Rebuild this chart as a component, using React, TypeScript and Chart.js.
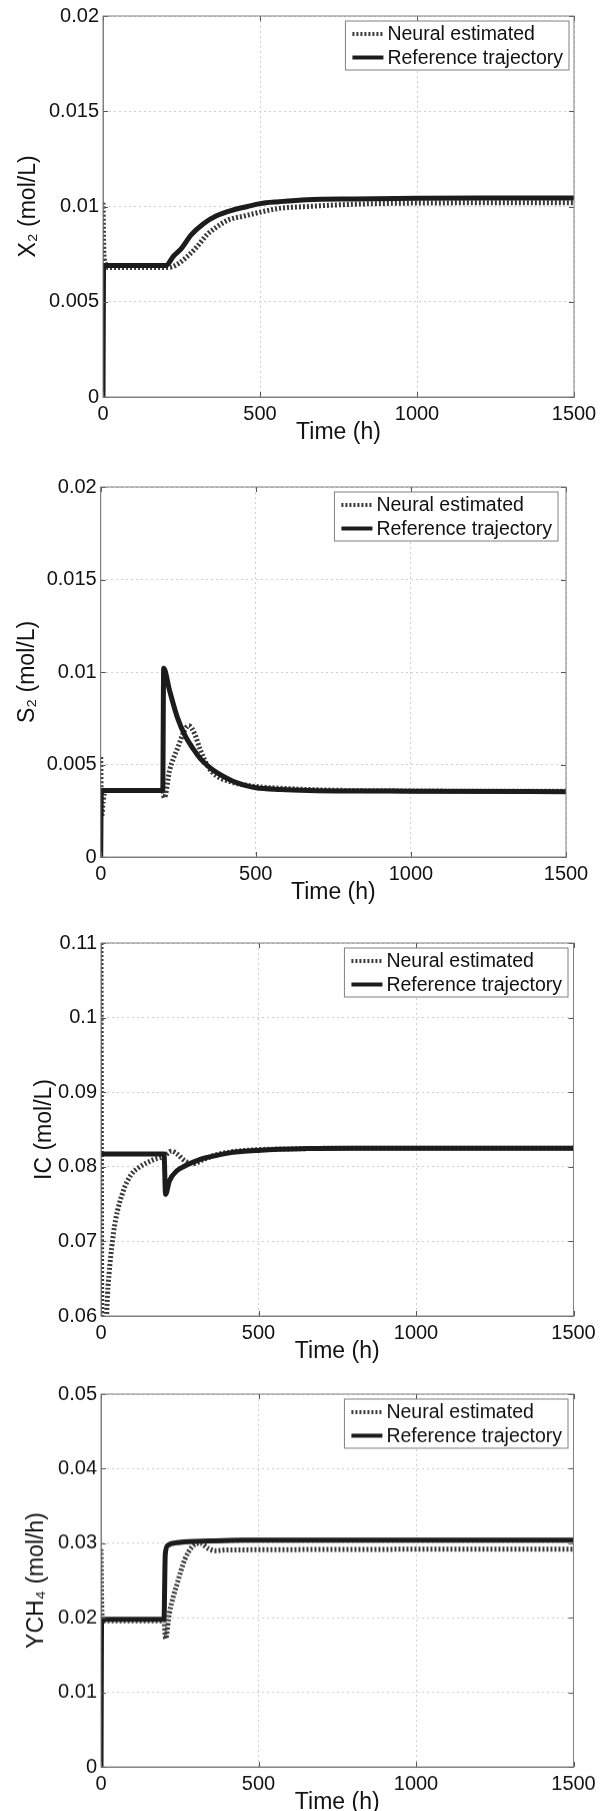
import React, { useEffect, useRef } from "react";
import { Chart, registerables } from "chart.js";

Chart.register(...registerables);

const FONT = "'Liberation Sans', Arial, Helvetica, sans-serif";

// ---------- data ----------
const xTicks = [0, 500, 1000, 1500];
const legendLabels = ["Neural estimated", "Reference trajectory"];

// Panel 1: X2
const t1Neu = [0, 3, 8, 15, 210, 240, 270, 300, 330, 360, 400, 450, 500, 560, 650, 800, 1000, 1500];
const x2Neu = [0.0102, 0.0075, 0.007, 0.0068, 0.0068, 0.007, 0.0074, 0.0079, 0.0085, 0.0089, 0.0093, 0.0095, 0.0097, 0.0099, 0.01, 0.01012, 0.01018, 0.0102];
const t1Ref = [0, 2, 200, 225, 250, 280, 320, 360, 410, 460, 500, 560, 650, 800, 1000, 1200, 1500];
const x2Ref = [0, 0.0069, 0.0069, 0.0074, 0.0078, 0.0085, 0.0091, 0.0095, 0.0098, 0.01, 0.01015, 0.01025, 0.01036, 0.0104, 0.01043, 0.01044, 0.01044];
const x2Ticks = [0, 0.005, 0.01, 0.015, 0.02];

// Panel 2: S2
const t2Neu = [0, 3, 8, 15, 200, 205, 222, 247, 272, 284, 303, 322, 347, 372, 421, 500, 600, 700, 1000, 1500];
const s2Neu = [0.0054, 0.0022, 0.003, 0.0036, 0.0036, 0.0032, 0.00468, 0.00585, 0.0069, 0.0071, 0.00665, 0.00575, 0.00486, 0.0044, 0.00405, 0.00381, 0.0037, 0.00363, 0.00357, 0.00355];
const t2Ref = [0, 2, 200, 203, 222, 247, 272, 300, 322, 347, 372, 421, 460, 500, 580, 670, 800, 1000, 1500];
const s2Ref = [0, 0.0036, 0.0036, 0.0102, 0.009, 0.00755, 0.00656, 0.0058, 0.0053, 0.0049, 0.00459, 0.00414, 0.0039, 0.00374, 0.00365, 0.0036, 0.00357, 0.00356, 0.00353];
const s2Ticks = [0, 0.005, 0.01, 0.015, 0.02];

// Panel 3: IC
const t3Neu = [0, 3, 10, 22, 34, 46, 71, 95, 120, 169, 200, 224, 242, 266, 291, 327, 364, 413, 498, 600, 800, 1500];
const icNeu = [0.11, 0.055, 0.055, 0.0638, 0.0692, 0.0728, 0.0768, 0.0789, 0.0799, 0.081, 0.0814, 0.0821, 0.0817, 0.0808, 0.0804, 0.081, 0.0816, 0.082, 0.0823, 0.0824, 0.0825, 0.0825];
const t3Ref = [0, 200, 205, 217, 242, 266, 315, 364, 413, 498, 657, 800, 1500];
const icRef = [0.0817, 0.0817, 0.0763, 0.0781, 0.0795, 0.0801, 0.081, 0.0815, 0.0819, 0.0822, 0.08245, 0.0825, 0.0825];
const icTicks = [0.06, 0.07, 0.08, 0.09, 0.1, 0.11];

// Panel 4: YCH4
const t4Neu = [0, 3, 8, 200, 205, 217, 242, 266, 291, 315, 340, 364, 400, 1500];
const chNeu = [0.0292, 0.0205, 0.0196, 0.0196, 0.0172, 0.0206, 0.0246, 0.0278, 0.0296, 0.03, 0.0293, 0.029, 0.0291, 0.0292];
const t4Ref = [0, 2, 200, 204, 212, 250, 350, 450, 1500];
const chRef = [0, 0.0198, 0.0198, 0.0285, 0.0297, 0.0301, 0.0303, 0.0304, 0.0304];
const chTicks = [0, 0.01, 0.02, 0.03, 0.04, 0.05];

// ---------- layout ----------
type PanelDef = {
  top: number; bottom: number; left: number; right: number;
  yTicks: number[]; yTitle: string; yTitleX: number; legendGap: number;
  tn: number[]; vn: number[]; tr: number[]; vr: number[];
};

const panels: PanelDef[] = [
  { top: 15.7, bottom: 396.7, left: 103, right: 574, yTicks: x2Ticks, yTitle: "X\u2082 (mol/L)", yTitleX: 29, legendGap: 5, tn: t1Neu, vn: x2Neu, tr: t1Ref, vr: x2Ref },
  { top: 486.7, bottom: 856.7, left: 100.7, right: 566, yTicks: s2Ticks, yTitle: "S\u2082 (mol/L)", yTitleX: 28, legendGap: 8, tn: t2Neu, vn: s2Neu, tr: t2Ref, vr: s2Ref },
  { top: 942.7, bottom: 1316, left: 101, right: 573.5, yTicks: icTicks, yTitle: "IC (mol/L)", yTitleX: 45, legendGap: 5.5, tn: t3Neu, vn: icNeu, tr: t3Ref, vr: icRef },
  { top: 1394.3, bottom: 1766.7, left: 101, right: 573.5, yTicks: chTicks, yTitle: "YCH\u2084 (mol/h)", yTitleX: 37, legendGap: 5.5, tn: t4Neu, vn: chNeu, tr: t4Ref, vr: chRef },
];

const PAD_TOP = 20;
const XAXIS_H = 55;
const W = 605;
const TICK_FONT = 20;
const TITLE_FONT = 23;
const LEGEND_FONT = 19.5;

const NEU_COLOR = "#3a3a3a";
const NEU_DASH = [2, 2];
const REF_COLOR = "#1c1c1c";
const LINE_W = 5;

const fmt = (v: number) => String(parseFloat(Number(v).toFixed(6)));

const matlabPlugin = {
  id: "matlabBox",
  afterDatasetsDraw(chart: any) {
    const { ctx, chartArea } = chart;
    const { left, right, top, bottom } = chartArea;
    ctx.save();
    ctx.strokeStyle = "#555";
    ctx.lineWidth = 1;
    const ys = chart.scales.y;
    const xs = chart.scales.x;
    ys.ticks.forEach((t: any) => {
      const y = Math.round(ys.getPixelForValue(t.value)) + 0.5;
      ctx.beginPath();
      ctx.moveTo(left, y); ctx.lineTo(left + 5, y);
      ctx.moveTo(right, y); ctx.lineTo(right - 5, y);
      ctx.stroke();
    });
    xs.ticks.forEach((t: any) => {
      const x = Math.round(xs.getPixelForValue(t.value)) + 0.5;
      ctx.beginPath();
      ctx.moveTo(x, bottom); ctx.lineTo(x, bottom - 5);
      ctx.moveTo(x, top); ctx.lineTo(x, top + 5);
      ctx.stroke();
    });
    ctx.strokeStyle = "#808080";
    ctx.lineWidth = 1;
    ctx.strokeRect(left, top, right - left, bottom - top);
    ctx.restore();
  },
  afterDraw(chart: any, _args: any, opts: any) {
    const { ctx, chartArea } = chart;
    const ds = chart.data.datasets;
    ctx.save();
    ctx.font = `${LEGEND_FONT}px ${FONT}`;
    const tw = Math.max(...ds.map((d: any) => ctx.measureText(d.label).width));
    const w = 7 + 31 + 4 + tw + 6;
    const h = 49;
    const x0 = chartArea.right - (opts.gap ?? 5) - w;
    const y0 = chartArea.top + 5;
    ctx.fillStyle = "#fff";
    ctx.fillRect(x0, y0, w, h);
    ctx.strokeStyle = "#808080";
    ctx.lineWidth = 1;
    ctx.strokeRect(x0, y0, w, h);
    ds.forEach((d: any, i: number) => {
      const cy = y0 + 13 + i * 23.5;
      ctx.beginPath();
      ctx.strokeStyle = d.borderColor;
      ctx.lineWidth = 4;
      ctx.setLineDash(d.borderDash || []);
      ctx.moveTo(x0 + 7, cy);
      ctx.lineTo(x0 + 38, cy);
      ctx.stroke();
      ctx.setLineDash([]);
      ctx.fillStyle = "#111";
      ctx.textBaseline = "middle";
      ctx.textAlign = "left";
      ctx.fillText(d.label, x0 + 42, cy + 1);
    });
    ctx.restore();
  },
};

function Panel({ p }: { p: PanelDef }) {
  const ref = useRef<HTMLCanvasElement | null>(null);
  const H = p.bottom - p.top + PAD_TOP + XAXIS_H;
  useEffect(() => {
    if (!ref.current) return;
    const yMin = p.yTicks[0];
    const yMax = p.yTicks[p.yTicks.length - 1];
    const chart = new Chart(ref.current, {
      type: "line",
      data: {
        datasets: [
          {
            label: legendLabels[0],
            data: p.tn.map((t, i) => ({ x: t, y: p.vn[i] })),
            borderColor: NEU_COLOR,
            borderDash: NEU_DASH,
            borderWidth: LINE_W,
            borderCapStyle: "butt",
            pointRadius: 0,
            fill: false,
            cubicInterpolationMode: "monotone",
            order: 1,
          },
          {
            label: legendLabels[1],
            data: p.tr.map((t, i) => ({ x: t, y: p.vr[i] })),
            borderColor: REF_COLOR,
            borderWidth: LINE_W,
            pointRadius: 0,
            fill: false,
            cubicInterpolationMode: "monotone",
            order: 0,
          },
        ],
      },
      options: {
        animation: false,
        responsive: false,
        maintainAspectRatio: false,
        layout: { padding: { top: PAD_TOP, right: W - p.right, left: 0, bottom: 0 } },
        plugins: {
          legend: { display: false },
          tooltip: { enabled: false },
          matlabBox: { gap: p.legendGap },
        } as any,
        scales: {
          x: {
            type: "linear",
            min: 0,
            max: 1500,
            afterBuildTicks: (s: any) => { s.ticks = xTicks.map((v) => ({ value: v })); },
            afterFit: (s: any) => { s.height = XAXIS_H; },
            ticks: { color: "#111", font: { family: FONT, size: TICK_FONT }, padding: 5, maxRotation: 0, callback: (v: any) => fmt(v) },
            grid: { color: "#cfcfcf", lineWidth: 1, drawTicks: false },
            border: { display: true, color: "#808080", width: 1, dash: [2, 3] },
            title: { display: true, text: "Time (h)", color: "#111", font: { family: FONT, size: TITLE_FONT }, padding: { top: 0, bottom: 6 } },
          },
          y: {
            type: "linear",
            min: yMin,
            max: yMax,
            afterBuildTicks: (s: any) => { s.ticks = p.yTicks.map((v) => ({ value: v })); },
            afterFit: (s: any) => { s.width = p.left; },
            ticks: { color: "#111", font: { family: FONT, size: TICK_FONT }, padding: 4, callback: (v: any) => fmt(v) },
            grid: { color: "#cfcfcf", lineWidth: 1, drawTicks: false },
            border: { display: true, color: "#808080", width: 1, dash: [2, 3] },
            title: { display: true, text: p.yTitle, color: "#111", font: { family: FONT, size: TITLE_FONT }, padding: { top: p.yTitleX - TITLE_FONT * 0.6, bottom: 0 } },
          },
        },
      },
      plugins: [matlabPlugin],
    } as any);
    return () => chart.destroy();
  }, [p]);
  return (
    <canvas
      ref={ref}
      width={W}
      height={H}
      style={{ position: "absolute", left: 0, top: p.top - PAD_TOP, width: W, height: H, display: "block" }}
    />
  );
}

export default function App() {
  return (
    <div style={{ position: "absolute", left: 0, top: 0, width: W, height: 1811, overflow: "hidden", background: "#fff" }}>
      {panels.map((p, i) => (
        <Panel key={i} p={p} />
      ))}
    </div>
  );
}
